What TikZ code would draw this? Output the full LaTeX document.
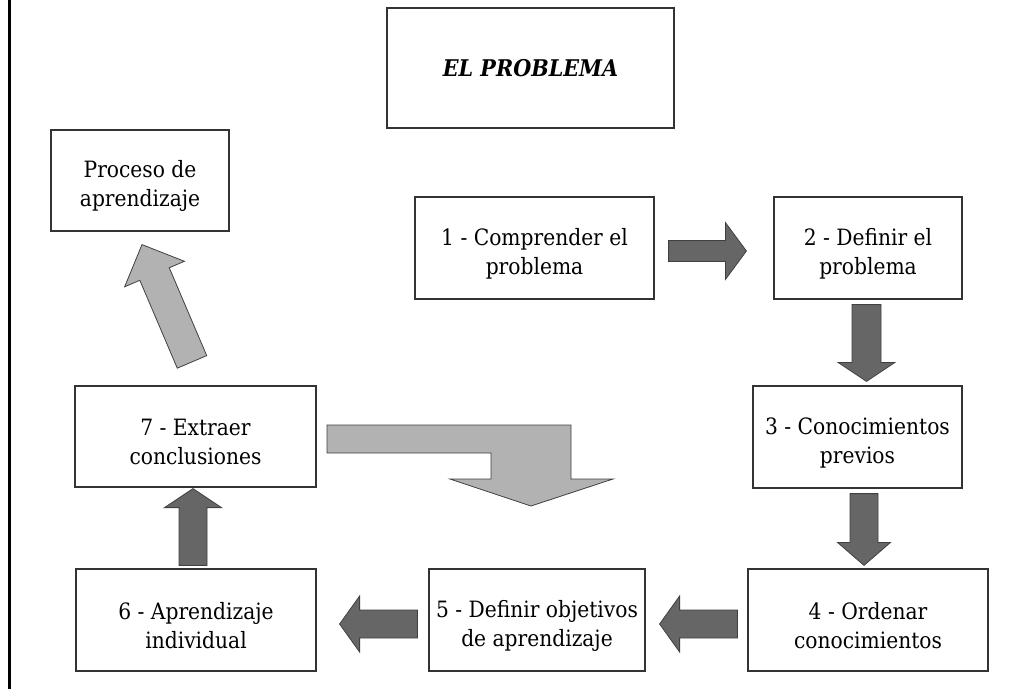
\documentclass[tikz,border=0pt]{standalone}
\usepackage{fontspec}
\setmainfont{DejaVu Serif Condensed}
\usetikzlibrary{calc, positioning}
\tikzset{
    x=1pt, y=-1pt, % one unit is one pixel of the page, y runs downwards
    box/.style={draw=black!80, line width=1.2pt, fill=white, align=center, inner sep=0pt,
        font=\fontsize{22.5}{29}\selectfont}, % sets properties for each box
    titlebox/.style={box, font=\fontsize{23}{28}\selectfont\bfseries\itshape}, % the box on top
    dark arrow/.style={draw=black!75, line width=0.8pt, fill=black!60}, % arrows between steps
    light arrow/.style={draw=black!75, line width=0.8pt, fill=black!30}, % the two grey arrows
}

% two lines of a box, set a little below the middle
\newcommand{\twolines}[2]{\rule{0pt}{28pt}#1\\#2}

% style, from, to, shaft half width, head half width, head length
\newcommand{\blockarrow}[6]{%
    \coordinate (head) at ($(#3)!#6!(#2)$);
    \draw[#1] ($(#2)!#4!90:(#3)$) -- ($(head)!#4!90:(#3)$) -- ($(head)!#5!90:(#3)$) -- (#3)
        -- ($(head)!#5!-90:(#3)$) -- ($(head)!#4!-90:(#3)$) -- ($(#2)!#4!-90:(#3)$) -- cycle;
}

\begin{document}
\begin{tikzpicture}
    \useasboundingbox (0,0) rectangle (1020,689);
    \draw[line width=3pt] (9,0) -- (9,689);

    \node[titlebox, minimum width=287, minimum height=120] (title) at (530.5,68) {EL PROBLEMA};
    \node[box, minimum width=178, minimum height=101] (proc) at (140,180.5) {\twolines{Proceso de}{aprendizaje}};
    \node[box, minimum width=239, minimum height=102] (b1) at (534.5,248) {\twolines{1 - Comprender el}{problema}};
    \node[box, minimum width=188, minimum height=102] (b2) at (868,248) {\twolines{2 - Definir el}{problema}};
    \node[box, minimum width=209, minimum height=102] (b3) at (857.5,437) {\twolines{3 - Conocimientos}{previos}};
    \node[box, minimum width=240, minimum height=102] (b4) at (868,620) {\twolines{4 - Ordenar}{conocimientos}};
    \node[box, minimum width=216, minimum height=102] (b5) at (537,620) {\twolines{5 - Definir objetivos}{de aprendizaje}};
    \node[box, minimum width=240, minimum height=102] (b6) at (196,620) {\twolines{6 - Aprendizaje}{individual}};
    \node[box, minimum width=241, minimum height=101] (b7) at (195.5,436.5) {\twolines{7 - Extraer}{conclusiones}};

    % ends of the block arrows
    \coordinate (a12s) at ($(b1.east)+(14,3)$);
    \coordinate (a12e) at ($(b2.west)+(-27,3)$);
    \coordinate (a23s) at ($(b2.south)+(-1.5,5)$);
    \coordinate (a23e) at ($(b3.north)+(9,-4)$);
    \coordinate (a34s) at ($(b3.south)+(6.5,5)$);
    \coordinate (a34e) at ($(b4.north)+(-4,-3)$);
    \coordinate (a45s) at ($(b4.west)+(-10,4)$);
    \coordinate (a45e) at ($(b5.east)+(14,4)$);
    \coordinate (a56s) at ($(b5.west)+(-11,4)$);
    \coordinate (a56e) at ($(b6.east)+(23,4)$);
    \coordinate (a67s) at ($(b6.north)+(-3,-3)$);
    \coordinate (a67e) at ($(b7.south)+(-2.5,1)$);
    \coordinate (a7ps) at ($(b7.north)+(-3.5,-23.5)$);
    \coordinate (a7pe) at ($(proc.south)+(2,13)$);

    \blockarrow{dark arrow}{a12s}{a12e}{10.5pt}{28.5pt}{21pt}
    \blockarrow{dark arrow}{a23s}{a23e}{14.5pt}{28.5pt}{19pt}
    \blockarrow{dark arrow}{a34s}{a34e}{14pt}{26.5pt}{23pt}
    \blockarrow{dark arrow}{a45s}{a45e}{14pt}{28pt}{20pt}
    \blockarrow{dark arrow}{a56s}{a56e}{14pt}{28pt}{20pt}
    \blockarrow{dark arrow}{a67s}{a67e}{14pt}{28.5pt}{19pt}
    \blockarrow{light arrow}{a7ps}{a7pe}{16pt}{32.5pt}{32pt}

    % bent arrow from step 7 down to step 5
    \draw[light arrow] (327,425) -- (571,425) -- (571,479) -- (613,479) -- (531,506)
        -- (450,479) -- (491,479) -- (491,453) -- (327,453) -- cycle;
\end{tikzpicture}
\end{document}
